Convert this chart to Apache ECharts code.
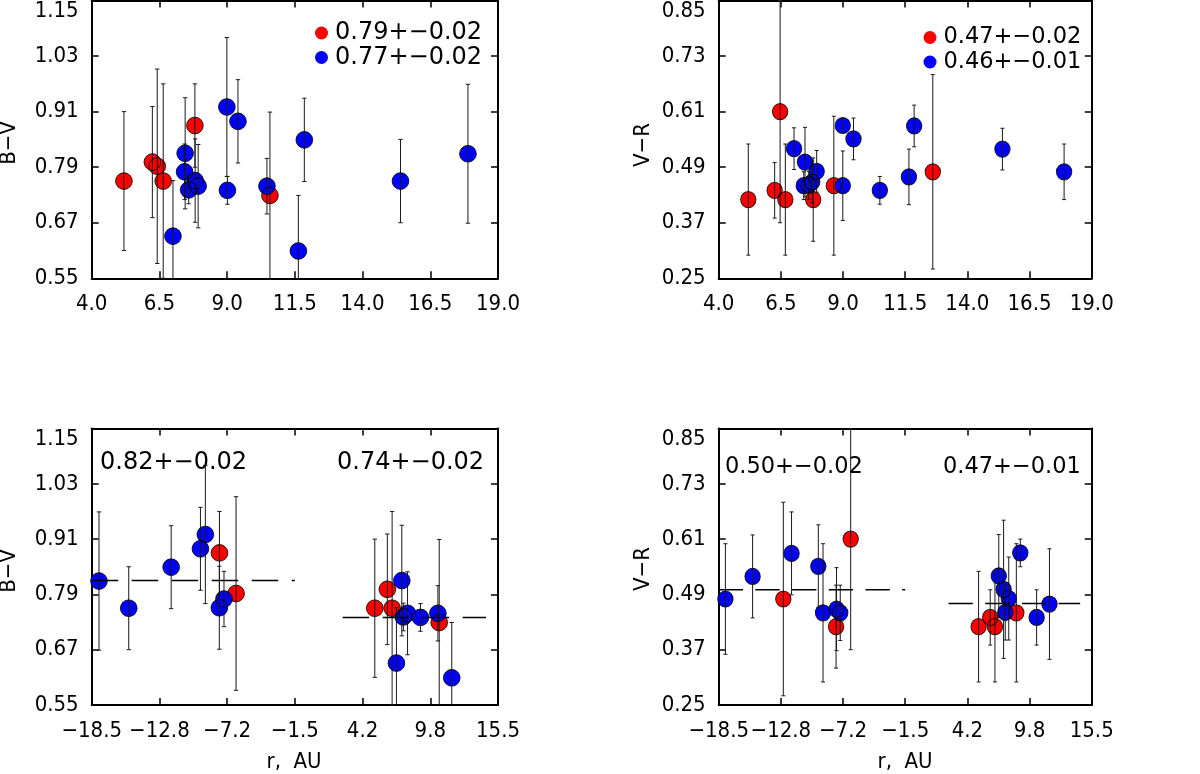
<!DOCTYPE html>
<html><head><meta charset="utf-8">
<script src="https://cdn.jsdelivr.net/npm/echarts@6/dist/echarts.min.js"></script>
<style>html,body{margin:0;padding:0;background:#fff}#c{width:1200px;height:774px}</style>
</head><body><div id="c"></div><script>
// ---------- data ----------
// B−V : red objects (signed r, value, error)
const bvRedR   = [-7.81, -6.42, 5.19, 6.24, 6.64, 10.58];
const bvRedVal = [0.880, 0.792, 0.760, 0.801, 0.760, 0.729];
const bvRedErr = [0.09, 0.21, 0.15, 0.12, 0.21, 0.18];
// B−V : blue objects
const bvBlueR   = [-17.89, -15.40, -11.85, -9.40, -8.99, -7.82, -7.43, 7.00, 7.45, 7.58, 7.93, 9.01, 10.47, 11.63];
const bvBlueVal = [0.819, 0.760, 0.849, 0.889, 0.920, 0.761, 0.780, 0.641, 0.820, 0.741, 0.749, 0.740, 0.749, 0.609];
const bvBlueErr = [0.15, 0.09, 0.09, 0.09, 0.15, 0.09, 0.06, 0.12, 0.12, 0.03, 0.09, 0.03, 0.06, 0.12];
// V−R : red objects
const vrRedR   = [-12.61, -7.80, -6.47, 5.19, 6.25, 6.68, 8.63];
const vrRedVal = [0.480, 0.420, 0.610, 0.420, 0.440, 0.420, 0.450];
const vrRedErr = [0.21, 0.09, 0.24, 0.12, 0.06, 0.12, 0.15];
// V−R : blue objects
const vrBlueR   = [-17.89, -15.41, -11.86, -9.42, -8.99, -7.76, -7.42, 7.03, 7.47, 7.94, 7.62, 8.99, 10.48, 11.65];
const vrBlueVal = [0.480, 0.529, 0.579, 0.551, 0.450, 0.458, 0.450, 0.530, 0.501, 0.481, 0.451, 0.580, 0.440, 0.469];
const vrBlueErrTop    = [0.06, 0.045, 0.045, 0.045, 0.075, 0.045, 0.03, 0.045, 0.075, 0.045, 0.03, 0.015, 0.03, 0.06];
const vrBlueErrBottom = [0.12, 0.09, 0.09, 0.09, 0.15, 0.09, 0.06, 0.09, 0.15, 0.09, 0.06, 0.03, 0.06, 0.12];
// mean lines in the lower panels: [xStart, xEnd, value]
const bvMeanLines = [[-18.5, -1.5, 0.82], [2.5, 14.5, 0.74]];
const vrMeanLines = [[-18.5, -1.5, 0.50], [2.45, 14.45, 0.47]];
// texts
const legendTL = ['0.79+\u22120.02', '0.77+\u22120.02'];
const legendTR = ['0.47+\u22120.02', '0.46+\u22120.01'];
const notesBL  = ['0.82+\u22120.02', '0.74+\u22120.02'];
const notesBR  = ['0.50+\u22120.02', '0.47+\u22120.01'];
// tick values
const rTicksAbs    = [4.0, 6.5, 9.0, 11.5, 14.0, 16.5, 19.0];
const rTicksSigned = [-18.5, -12.8333, -7.1667, -1.5, 4.1667, 9.8333, 15.5];
const bvTicks = [0.55, 0.67, 0.79, 0.91, 1.03, 1.15];
const vrTicks = [0.25, 0.37, 0.49, 0.61, 0.73, 0.85];

// ---------- chart ----------
const RED = '#ff0000', BLUE = '#0000ff';
const TICKF = '"DejaVu Sans Condensed", "Liberation Sans", sans-serif';
const TICKS = 22;
const fmt = (v, d) => v.toFixed(d).replace('-', '\u2212');

const panels = [
  {grid:{left:91.7, top:0.5, width:406.3, height:277.8}, xt:rTicksAbs, yt:bvTicks, signed:false,
   red:[bvRedR, bvRedVal, bvRedErr], blue:[bvBlueR, bvBlueVal, bvBlueErr], names:legendTL,
   size:[16.7,16.7], cap:2.2},
  {grid:{left:718.7, top:0.5, width:373, height:277.8}, xt:rTicksAbs, yt:vrTicks, signed:false,
   red:[vrRedR, vrRedVal, vrRedErr], blue:[vrBlueR, vrBlueVal, vrBlueErrTop], names:legendTR,
   size:[15.4,16.2], cap:2},
  {grid:{left:91.7, top:428.5, width:406.3, height:276.5}, xt:rTicksSigned, yt:bvTicks, signed:true,
   red:[bvRedR, bvRedVal, bvRedErr], blue:[bvBlueR, bvBlueVal, bvBlueErr], names:['bl red','bl blue'],
   size:[16.7,16.7], cap:2.2, lines:bvMeanLines, dash:[26.5,13.5]},
  {grid:{left:718.7, top:428.5, width:373, height:276.5}, xt:rTicksSigned, yt:vrTicks, signed:true,
   red:[vrRedR, vrRedVal, vrRedErr], blue:[vrBlueR, vrBlueVal, vrBlueErrBottom], names:['br red','br blue'],
   size:[15.4,16.2], cap:2, lines:vrMeanLines, dash:[24.3,12.4]}
];

function mkX(gi, ticks, pos, labels) {
  return {type:'value', gridIndex:gi, position:pos, min:ticks[0], max:ticks[ticks.length-1],
    axisLine:{show:true, onZero:false, lineStyle:{color:'#000', width:2}},
    axisTick:{show:true, inside:true, length:7, customValues:ticks, lineStyle:{color:'#000', width:1.5}},
    axisLabel:{show:labels, customValues:ticks, formatter:v => fmt(v,1), fontFamily:TICKF, fontSize:TICKS, color:'#000', margin:15},
    splitLine:{show:false}};
}
function mkY(gi, ticks, pos, labels) {
  return {type:'value', gridIndex:gi, position:pos, min:ticks[0], max:ticks[ticks.length-1],
    axisLine:{show:true, onZero:false, lineStyle:{color:'#000', width:2}},
    axisTick:{show:true, inside:true, length:7, customValues:ticks, lineStyle:{color:'#000', width:1.5}},
    axisLabel:{show:labels, customValues:ticks, formatter:v => fmt(v,2), fontFamily:TICKF, fontSize:TICKS, color:'#000', margin:13,
      verticalAlignMaxLabel:'top'},
    splitLine:{show:false}};
}
function errRender(capHalf) {
  return function(params, api) {
    const x = api.value(0), lo = api.value(2), hi = api.value(3);
    const pLo = api.coord([x, lo]), pHi = api.coord([x, hi]);
    const cs = params.coordSys, top = cs.y, bot = cs.y + cs.height;
    const cl = y => Math.max(top, Math.min(bot, y));
    const st = {stroke:'#1a1a1a', lineWidth:1};
    const ch = [{type:'line', shape:{x1:pLo[0], y1:cl(pHi[1]), x2:pLo[0], y2:cl(pLo[1])}, style:st}];
    [pHi, pLo].forEach(p => {
      if (p[1] >= top && p[1] <= bot) ch.push({type:'line', shape:{x1:p[0]-capHalf, y1:p[1], x2:p[0]+capHalf, y2:p[1]}, style:st});
    });
    return {type:'group', children:ch};
  };
}

const grid = [], xAxis = [], yAxis = [], series = [];
panels.forEach((p, i) => {
  grid.push(p.grid);
  xAxis.push(mkX(i, p.xt, 'bottom', true), mkX(i, p.xt, 'top', false));
  yAxis.push(mkY(i, p.yt, 'left', true), mkY(i, p.yt, 'right', false));
  const xi = 2*i, yi = 2*i;
  const xr = r => p.signed ? r : Math.abs(r);
  const pts = g => g[0].map((r, k) => [xr(r), g[1][k]]);
  const errs = g => g[0].map((r, k) => [xr(r), g[1][k], g[1][k]-g[2][k], g[1][k]+g[2][k]]);
  series.push({type:'scatter', name:p.names[0], xAxisIndex:xi, yAxisIndex:yi, data:pts(p.red),
    symbol:'circle', symbolSize:p.size, itemStyle:{color:RED, opacity:1}, z:2, silent:true});
  series.push({type:'scatter', name:p.names[1], xAxisIndex:xi, yAxisIndex:yi, data:pts(p.blue),
    symbol:'circle', symbolSize:p.size, itemStyle:{color:BLUE, opacity:1}, z:3, silent:true});
  series.push({type:'custom', xAxisIndex:xi, yAxisIndex:yi, data:errs(p.red).concat(errs(p.blue)),
    renderItem:errRender(p.cap), encode:{x:0, y:1}, z:4, silent:true});
  series.push({type:'scatter', xAxisIndex:xi, yAxisIndex:yi, data:pts(p.red).concat(pts(p.blue)),
    symbol:'circle', symbolSize:p.size, itemStyle:{color:'rgba(0,0,0,0)', borderColor:'#000', borderWidth:1}, z:5, silent:true});
  (p.lines || []).forEach(l => {
    series.push({type:'line', xAxisIndex:xi, yAxisIndex:yi, data:[[l[0], l[2]], [l[1], l[2]]],
      showSymbol:false, symbol:'none', lineStyle:{color:'#000', width:1.5, type:p.dash, dashOffset:0}, z:6, silent:true});
  });
});

const legStyle = (fs) => ({fontFamily:'DejaVu Sans', fontSize:fs, color:'#000', lineHeight:24, padding:[0,0,0,2]});
const legend = [
  {data:legendTL, left:310, top:16, orient:'vertical', itemWidth:13, itemHeight:13, itemGap:0.5, icon:'circle',
   selectedMode:false, textStyle:legStyle(24)},
  {data:legendTR, left:918.5, top:20.5, orient:'vertical', itemWidth:13, itemHeight:13, itemGap:0.5, icon:'circle',
   selectedMode:false, textStyle:legStyle(22.5)}
];

const TF = '22px "DejaVu Sans Condensed", "Liberation Sans", sans-serif';
const tx = (t, x, y, font, rot, align) => ({type:'text', x:x, y:y, rotation:rot||0,
  style:{text:t, x:0, y:0, font:font, fill:'#000', align:align||'center', verticalAlign:'middle',
         textAlign:align||'center', textVerticalAlign:'middle'}});
const graphic = [
  tx('B\u2212V', 9, 143, TF, Math.PI/2),
  tx('V\u2212R', 643, 145, TF, Math.PI/2),
  tx('B\u2212V', 9, 571, TF, Math.PI/2),
  tx('V\u2212R', 643, 569, TF, Math.PI/2),
  tx('r,  AU', 294, 762, TF),
  tx('r,  AU', 905, 762, TF),
  tx(notesBL[0], 100, 463, '24px "DejaVu Sans"', 0, 'left'),
  tx(notesBL[1], 337, 463, '24px "DejaVu Sans"', 0, 'left'),
  tx(notesBR[0], 725, 467, '22.5px "DejaVu Sans"', 0, 'left'),
  tx(notesBR[1], 943, 467, '22.5px "DejaVu Sans"', 0, 'left')
];

const chart = echarts.init(document.getElementById('c'), null, {renderer:'canvas'});
chart.setOption({animation:false, backgroundColor:'#fff', textStyle:{fontFamily:TICKF, fontSize:TICKS},
  grid, xAxis, yAxis, series, legend, graphic});
</script></body></html>
